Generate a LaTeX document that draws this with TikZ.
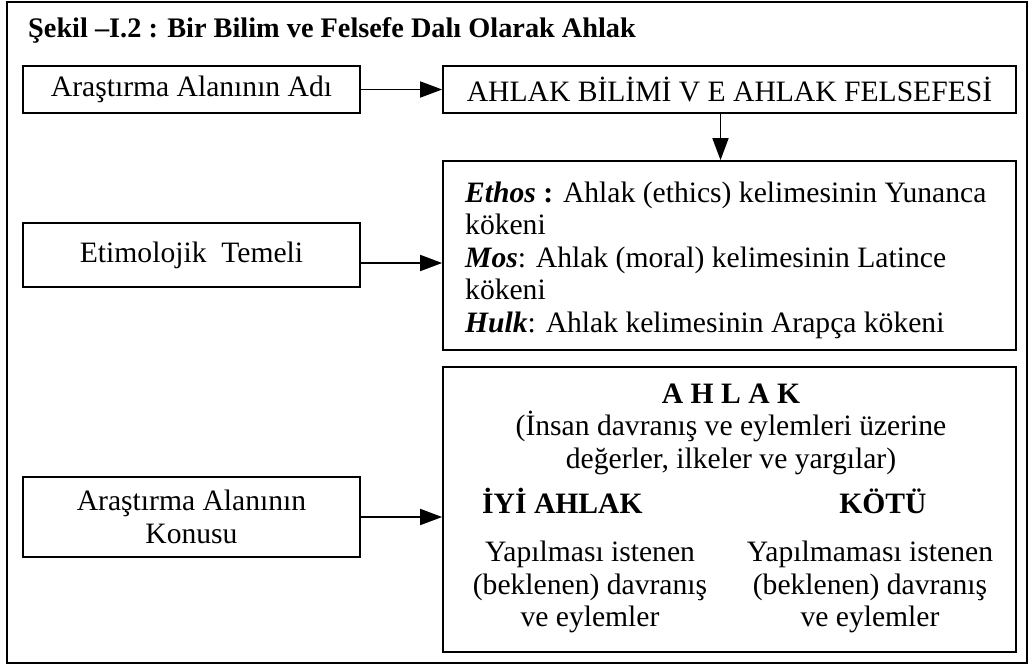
\documentclass[tikz,border=0pt]{standalone}
\usepackage{fontspec}
\setmainfont{Liberation Serif}
\usetikzlibrary{positioning, arrows, arrows.meta}

\newcommand{\govde}{\fontsize{29.6}{32.5}\selectfont}
\tikzset{
  kutu/.style={draw, line width=1.7pt, inner sep=0pt, align=center, font=\govde},
  yazi/.style={inner sep=0pt, align=center, font=\govde},
  ok/.style={-{Triangle[length=22pt,width=16pt]}, line width=1.7pt},
}

\begin{document}
\begin{tikzpicture}[x=1pt, y=-1pt]
\useasboundingbox (0,0) rectangle (1029,667);
\draw[line width=1.8pt] (7,2) rectangle (1027,663);

\node[yazi, anchor=base west, font=\fontsize{28.3}{30}\selectfont\bfseries] (baslik) at (28,37)
  {Şekil –I.2 : Bir Bilim ve Felsefe Dalı Olarak Ahlak};

% sol kutular
\node[kutu, minimum width=337pt, minimum height=47pt] (adi) at (191.5,89.5)
  {Araştırma Alanının Adı};
\node[kutu, minimum width=337pt, minimum height=64pt] (etim) at (191.5,255)
  {Etimolojik\ \ Temeli};
\node[kutu, minimum width=337pt, minimum height=80pt] (konu) at (191.5,517)
  {Araştırma Alanının\\Konusu};

% sag kutular
\node[kutu, minimum width=573pt, minimum height=47pt] (bilim) at (729.5,89.5)
  {AHLAK BİLİMİ V E AHLAK FELSEFESİ};
\node[kutu, minimum width=573pt, minimum height=189pt] (koken) at (729.5,255.5) {};
\node[yazi, anchor=west, align=left] (kokenyazi) at (465,260)
  {\textbf{\textit{Ethos}} \textbf{:} Ahlak (ethics) kelimesinin Yunanca\\
   kökeni\\
   \textbf{\textit{Mos}}: Ahlak (moral) kelimesinin Latince\\
   kökeni\\
   \textbf{\textit{Hulk}}: Ahlak kelimesinin Arapça kökeni};
\node[kutu, minimum width=573pt, minimum height=285pt] (ahlak) at (729.5,509.5) {};

% ahlak kutusunun ici
\node[yazi, anchor=base, font=\govde\bfseries] (ahlakad) at (731,403) {A H L A K};
\node[yazi, anchor=north] (tanim) at (731,411)
  {(İnsan davranış ve eylemleri üzerine\\değerler, ilkeler ve yargılar)};
\node[yazi, anchor=base west, font=\govde\bfseries] (iyi) at (482,513) {İYİ AHLAK};
\node[yazi, anchor=base, font=\govde\bfseries] (kotu) at (883,513) {KÖTÜ};
\node[yazi, anchor=north] (iyiacik) at (590,541)
  {Yapılması istenen\\(beklenen) davranış\\ve eylemler};
\node[yazi, anchor=north] (kotuacik) at (870,541)
  {Yapılmaması istenen\\(beklenen) davranış\\ve eylemler};

% oklar
\draw[ok] (adi.east) -- (bilim.west);
\draw[ok] ([xshift=-9pt]bilim.south) -- ([xshift=-9pt]bilim.south |- koken.north);
\draw[ok] ([yshift=-8pt]etim.east) -- ([yshift=-8pt]etim.east -| koken.west);
\draw[ok] (konu.east) -- (konu.east -| ahlak.west);
\end{tikzpicture}
\end{document}
